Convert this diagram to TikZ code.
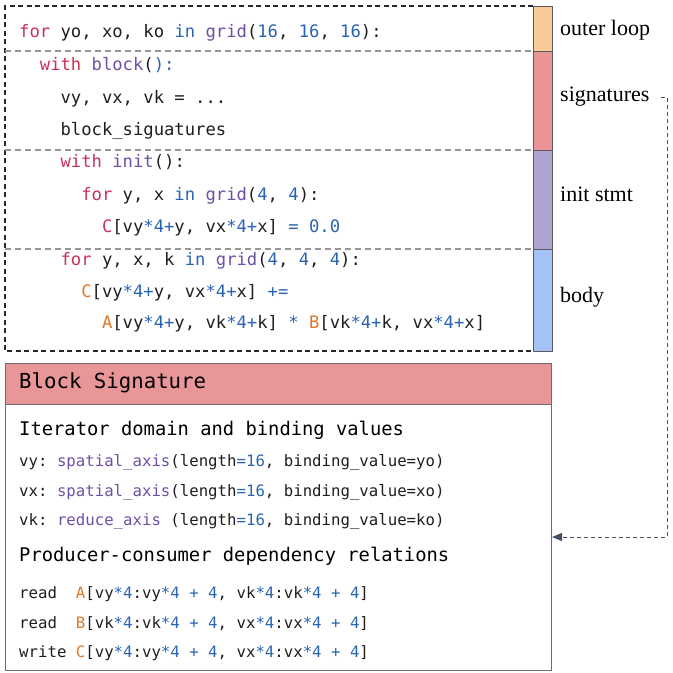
\documentclass[tikz,border=0pt]{standalone}
\usepackage{fontspec}
\usetikzlibrary{arrows.meta}
\newfontfamily\codefont{DejaVu Sans Mono}
\newfontfamily\labelfont{Liberation Serif}
\definecolor{kwred}{RGB}{200,50,90}
\definecolor{fnpurple}{RGB}{110,80,165}
\definecolor{numblue}{RGB}{40,100,180}
\definecolor{arrorange}{RGB}{225,120,40}
\definecolor{txt}{RGB}{30,30,30}
\definecolor{cOuter}{RGB}{248,202,152}
\definecolor{cSig}{RGB}{234,148,150}
\definecolor{cInit}{RGB}{175,163,208}
\definecolor{cBody}{RGB}{164,194,244}
\definecolor{cHead}{RGB}{232,150,152}
\definecolor{arrcol}{RGB}{70,80,100}
\newcommand\cKw[1]{\textcolor{kwred}{#1}}
\newcommand\cFn[1]{\textcolor{fnpurple}{#1}}
\newcommand\cNum[1]{\textcolor{numblue}{#1}}
\newcommand\cArr[1]{\textcolor{arrorange}{#1}}
\frenchspacing
\tikzset{
  codeline/.style={anchor=west, inner sep=0pt, text=txt, text height=1em, text depth=0pt,
    font=\codefont\fontsize{17.2}{20}\selectfont},
  headline/.style={anchor=west, inner sep=0pt, text=black, text height=1em, text depth=0pt,
    font=\codefont\fontsize{20.7}{24}\selectfont},
  subhead/.style={anchor=west, inner sep=0pt, text=black, text height=1em, text depth=0pt,
    font=\codefont\fontsize{18.8}{22}\selectfont},
  smallline/.style={anchor=west, inner sep=0pt, text=txt, text height=1em, text depth=0pt,
    font=\codefont\fontsize{15.7}{19}\selectfont},
  sidelabel/.style={anchor=west, inner sep=0pt, text=black, text height=0.96em, text depth=0pt,
    font=\labelfont\fontsize{22}{26}\selectfont},
  outerdash/.style={draw={rgb,255:red,40;green,40;blue,40}, line width=1.1pt, dash pattern=on 5pt off 3.5pt},
  sepdash/.style={draw={rgb,255:red,150;green,150;blue,150}, line width=1.1pt, dash pattern=on 6pt off 4pt},
  barseg/.style={draw={rgb,255:red,90;green,90;blue,100}, line width=0.8pt},
  linkarrow/.style={draw=arrcol, line width=1pt, dash pattern=on 4pt off 3pt, -{Triangle[length=10pt,width=8pt]}},
}
\begin{document}
\begin{tikzpicture}[x=1pt,y=-1pt]
\useasboundingbox (0,0) rectangle (673,673);
% color bar
\filldraw[barseg, fill=cOuter] (533,6) rectangle (552,51);
\filldraw[barseg, fill=cSig] (533,51) rectangle (552,150);
\filldraw[barseg, fill=cInit] (533,150) rectangle (552,249);
\filldraw[barseg, fill=cBody] (533,249) rectangle (552,351);
% outer dashed box
\coordinate (boxTR) at (533,6);
\coordinate (boxTL) at (5,6);
\coordinate (boxBL) at (5,351);
\coordinate (boxBR) at (533,351);
\draw[outerdash] (boxTR) -- (boxTL) -- (boxBL) -- (boxBR);
% separators
\coordinate (s1a) at (5,51); \coordinate (s1b) at (533,51);
\coordinate (s2a) at (5,150); \coordinate (s2b) at (533,150);
\coordinate (s3a) at (5,249); \coordinate (s3b) at (533,249);
\draw[sepdash] (s1a) -- (s1b);
\draw[sepdash] (s2a) -- (s2b);
\draw[sepdash] (s3a) -- (s3b);
% code
\node[codeline] (c1) at (19,32) {\cKw{for} yo, xo, ko \cNum{in} \cFn{grid}(\cNum{16}, \cNum{16}, \cNum{16}):};
\node[codeline] (c2) at (39.7,65) {\cKw{with} \cFn{block}(\cNum{):}};
\node[codeline] (c3) at (60.4,98) {vy, vx, vk = ...};
\node[codeline] (c4) at (60.4,130) {block\_siguatures};
\node[codeline] (c5) at (60.4,162) {\cKw{with} \cFn{init}():};
\node[codeline] (c6) at (81.1,195) {\cKw{for} y, x \cNum{in} \cFn{grid}(\cNum{4}, \cNum{4}):};
\node[codeline] (c7) at (101.8,227) {\cKw{C}[vy\cNum{*4+}y, vx\cNum{*4+}x] \cNum{= 0.0}};
\node[codeline] (c8) at (60.4,260) {\cKw{for} y, x, k \cNum{in} \cFn{grid}(\cNum{4}, \cNum{4}, \cNum{4}):};
\node[codeline] (c9) at (81.1,292) {\cArr{C}[vy\cNum{*4+}y, vx\cNum{*4+}x] \cNum{+=}};
\node[codeline] (c10) at (101.8,323) {\cArr{A}[vy\cNum{*4+}y, vk\cNum{*4+}k] \cNum{*} \cArr{B}[vk\cNum{*4+}k, vx\cNum{*4+}x]};
% side labels
\node[sidelabel] (lOuter) at (560,31) {outer loop};
\node[sidelabel] (lSig) at (560,97) {signatures};
\node[sidelabel] (lInit) at (560,197) {init stmt};
\node[sidelabel] (lBody) at (560,298) {body};
% block signature box
\filldraw[draw={rgb,255:red,110;green,110;blue,110}, line width=0.9pt, fill=cHead] (5,363) rectangle (551,404);
\draw[draw={rgb,255:red,110;green,110;blue,110}, line width=0.9pt] (5,404) rectangle (551,670);
\node[headline] (bsTitle) at (19,383) {Block Signature};
\node[subhead] (bsIter) at (19,430) {Iterator domain and binding values};
\node[smallline] (bsVy) at (19,461) {vy: \cFn{spatial\_axis}(length\cNum{=16}, binding\_value=yo)};
\node[smallline] (bsVx) at (19,491) {vx: \cFn{spatial\_axis}(length\cNum{=16}, binding\_value=xo)};
\node[smallline] (bsVk) at (19,520) {vk: \cFn{reduce\_axis} (length\cNum{=16}, binding\_value=ko)};
\node[subhead] (bsProd) at (19,556) {Producer-consumer dependency relations};
\node[smallline] (bsA) at (19,593) {read~~\cArr{A}[vy\cNum{*4}:vy\cNum{*4 + 4}, vk\cNum{*4}:vk\cNum{*4 + 4}]};
\node[smallline] (bsB) at (19,623) {read~~\cArr{B}[vk\cNum{*4}:vk\cNum{*4 + 4}, vx\cNum{*4}:vx\cNum{*4 + 4}]};
\node[smallline] (bsC) at (19,652) {write \cArr{C}[vy\cNum{*4}:vy\cNum{*4 + 4}, vx\cNum{*4}:vx\cNum{*4 + 4}]};
% link arrow
\coordinate (arrStart) at (661,97);
\coordinate (arrCorner) at (667,97);
\coordinate (sigIn) at (552,537);
\draw[linkarrow] (arrStart) -- (arrCorner) |- (sigIn);
\end{tikzpicture}
\end{document}
